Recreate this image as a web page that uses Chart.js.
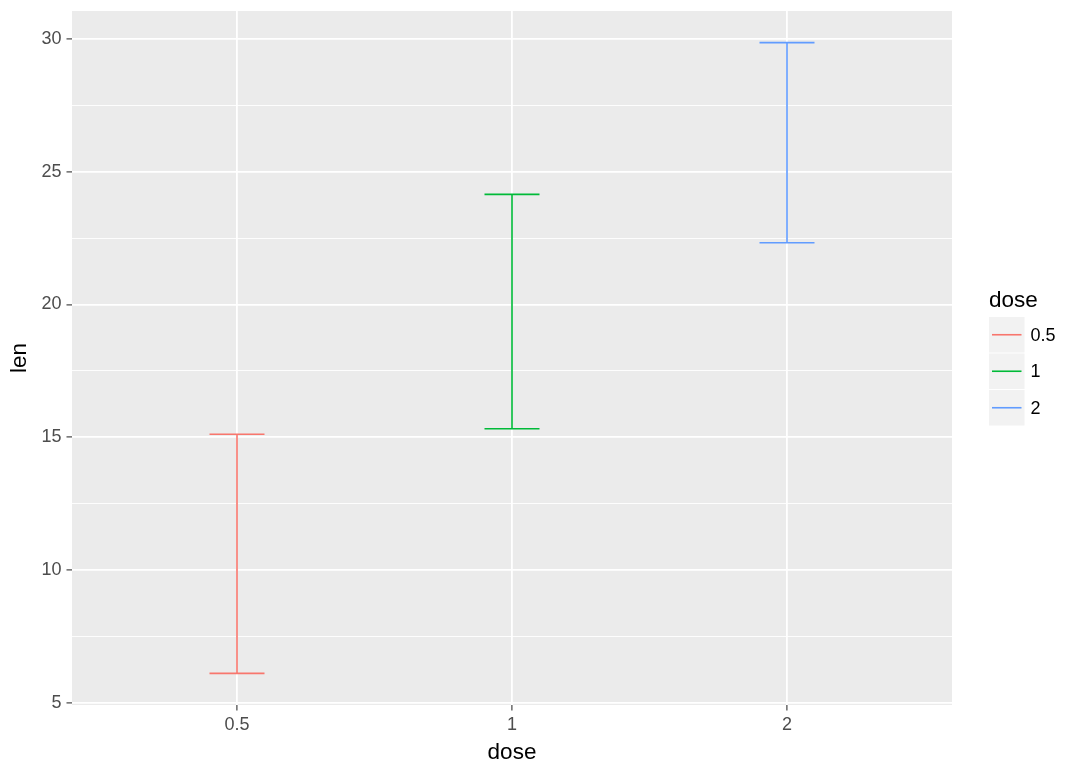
<!DOCTYPE html>
<html>
<head>
<meta charset="utf-8">
<title>len by dose</title>
<script src="https://cdn.jsdelivr.net/npm/chart.js@4.4.1/dist/chart.umd.min.js"></script>
<style>
  html, body { margin: 0; padding: 0; background: #fff; }
  #wrap { width: 1080px; height: 771px; position: relative; }
</style>
</head>
<body>
<div id="wrap"><canvas id="chart"></canvas></div>
<script>
// mean len +/- sd for each dose
const doses = ['0.5', '1', '2'];
const lenLower = [6.10, 15.32, 22.33];
const lenUpper = [15.11, 24.15, 29.87];
const doseColors = ['#F8766D', '#00BA38', '#619CFF'];
const yMajorTicks = [5, 10, 15, 20, 25, 30];
const yMinorTicks = [7.5, 12.5, 17.5, 22.5, 27.5];

const capHalf = 0.1;   // errorbar width 0.2
const FONT = '"Liberation Sans", Arial, sans-serif';
Chart.defaults.font.family = FONT;

const datasets = doses.map((d, i) => {
    const x = i + 1;
    return {
        label: d,
        data: [
            {x: x - capHalf, y: lenLower[i]}, {x: x + capHalf, y: lenLower[i]}, {x: x, y: null},
            {x: x, y: lenLower[i]}, {x: x, y: lenUpper[i]}, {x: x, y: null},
            {x: x - capHalf, y: lenUpper[i]}, {x: x + capHalf, y: lenUpper[i]}
        ],
        borderColor: doseColors[i],
        borderWidth: 1.6,
        borderCapStyle: 'butt',
        showLine: true,
        spanGaps: false,
        pointRadius: 0,
        pointHoverRadius: 0,
        fill: false
    };
});

// grey panel behind the grid
const panelBg = {
    id: 'panelBg',
    beforeDraw(chart) {
        const a = chart.chartArea, ctx = chart.ctx;
        ctx.save();
        ctx.fillStyle = '#EBEBEB';
        ctx.fillRect(a.left, a.top, a.right - a.left, a.bottom - a.top);
        ctx.restore();
    }
};

// ggplot style legend on the right
const doseLegend = {
    id: 'doseLegend',
    afterDraw(chart) {
        const ctx = chart.ctx;
        const x0 = 989, y0 = 317, key = 35.5;
        ctx.save();
        ctx.fillStyle = '#000';
        ctx.font = '22.5px ' + FONT;
        ctx.textAlign = 'left';
        ctx.textBaseline = 'alphabetic';
        ctx.fillText('dose', x0, 307);
        doses.forEach((d, i) => {
            const ky = y0 + i * (key + 1);
            ctx.fillStyle = '#F2F2F2';
            ctx.fillRect(x0, ky, key, key);
            ctx.strokeStyle = doseColors[i];
            ctx.lineWidth = 1.6;
            ctx.beginPath();
            ctx.moveTo(x0 + 3, ky + key / 2);
            ctx.lineTo(x0 + key - 3, ky + key / 2);
            ctx.stroke();
            ctx.fillStyle = '#000';
            ctx.font = '18px ' + FONT;
            ctx.textBaseline = 'middle';
            ctx.fillText(d, x0 + key + 6, ky + key / 2 + 1);
        });
        ctx.restore();
    }
};

new Chart(document.getElementById('chart'), {
    type: 'scatter',
    data: { datasets: datasets },
    plugins: [panelBg, doseLegend],
    options: {
        responsive: true,
        maintainAspectRatio: false,
        animation: false,
        devicePixelRatio: 1,
        layout: { padding: { top: 11, right: 128, left: 0, bottom: 0 } },
        plugins: {
            legend: { display: false },
            tooltip: { enabled: false }
        },
        scales: {
            x: {
                type: 'linear',
                min: 0.4,
                max: 3.6,
                afterBuildTicks: (s) => { s.ticks = doses.map((d, i) => ({ value: i + 1 })); },
                afterFit: (s) => { s.height = 66; s.paddingLeft = 0; s.paddingRight = 0; },
                ticks: {
                    autoSkip: false,
                    maxRotation: 0,
                    padding: 4,
                    color: '#4D4D4D',
                    font: { size: 18 },
                    callback: (v) => doses[v - 1]
                },
                grid: {
                    color: '#FFFFFF',
                    lineWidth: 1.8,
                    tickColor: '#333333',
                    tickWidth: 1.1,
                    tickLength: 5.5
                },
                border: { display: false },
                title: {
                    display: true,
                    text: 'dose',
                    color: '#000',
                    font: { size: 22.5 },
                    padding: { top: 0, bottom: 5 }
                }
            },
            y: {
                type: 'linear',
                min: 4.91,
                max: 31.06,
                afterBuildTicks: (s) => {
                    s.ticks = yMajorTicks.concat(yMinorTicks).sort((a, b) => a - b).map(v => ({ value: v }));
                },
                afterFit: (s) => { s.width = 72; s.paddingTop = 0; s.paddingBottom = 0; },
                ticks: {
                    autoSkip: false,
                    padding: 5,
                    color: '#4D4D4D',
                    font: { size: 18 },
                    callback: (v) => yMajorTicks.includes(v) ? String(v) : ''
                },
                grid: {
                    color: '#FFFFFF',
                    lineWidth: (c) => yMajorTicks.includes(c.tick.value) ? 1.8 : 0.9,
                    tickColor: (c) => yMajorTicks.includes(c.tick.value) ? '#333333' : 'rgba(0,0,0,0)',
                    tickWidth: 1.1,
                    tickLength: 5.5
                },
                border: { display: false },
                title: {
                    display: true,
                    text: 'len',
                    color: '#000',
                    font: { size: 22.5 },
                    padding: { top: 6.5, bottom: 0 }
                }
            }
        }
    }
});
</script>
</body>
</html>
